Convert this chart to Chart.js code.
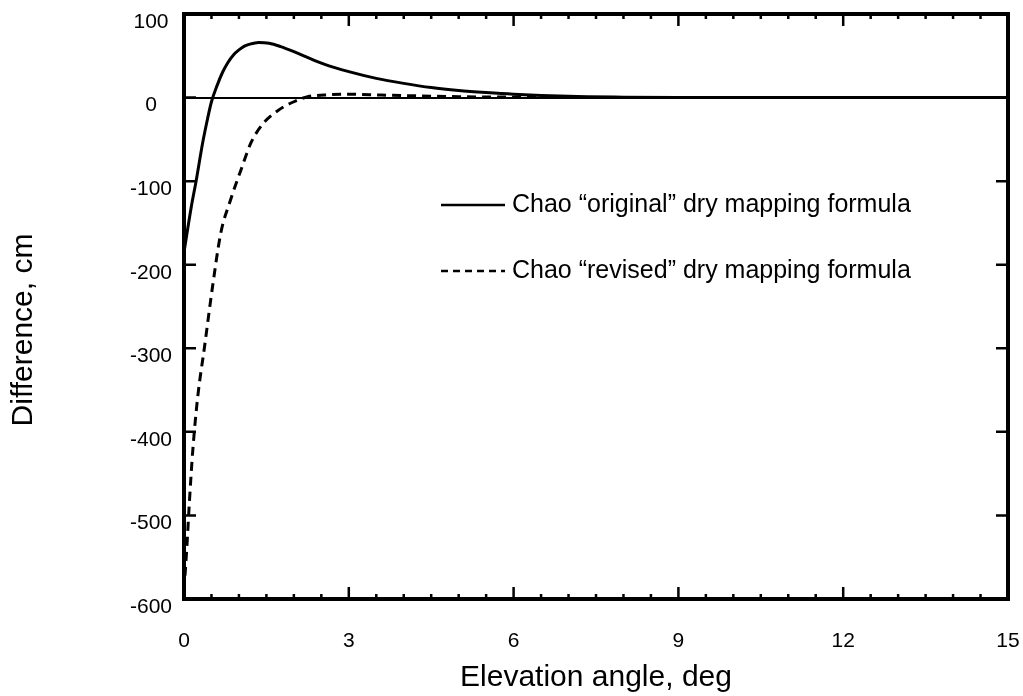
<!DOCTYPE html>
<html lang="en">
<head>
    <meta charset="UTF-8">
    <title>Mapping formula difference</title>
    <script src="https://cdn.jsdelivr.net/npm/chart.js"></script>
    <style>
        body {
            margin: 0;
            padding: 0;
            background: #fff;
        }
        #wrap {
            width: 1023px;
            height: 696px;
        }
    </style>
</head>
<body>
    <div id="wrap">
        <canvas id="myChart" width="1023" height="696"></canvas>
    </div>

    <script>
        // elevation angle (deg) and difference (cm)
        const originalX = [0, 0.06, 0.14, 0.22, 0.34, 0.43, 0.5, 0.6, 0.7, 0.8, 0.9, 1.0, 1.1, 1.2, 1.36, 1.55, 1.76, 2.0, 2.18, 2.55, 3.0, 3.5, 4.0, 4.5, 5.0, 5.5, 6.0, 7.0, 8.0, 9.0, 12, 15];
        const originalY = [-185, -160, -128, -100, -54, -25, -5, 14, 30, 42, 51, 57, 61.5, 64, 66, 65, 61, 55, 50, 40, 31, 23, 17, 12, 8.5, 6, 4, 1.5, 0.5, 0, 0, 0];

        const revisedX = [0, 0.05, 0.1, 0.16, 0.25, 0.37, 0.52, 0.67, 0.85, 1.04, 1.22, 1.43, 1.7, 2.0, 2.25, 2.55, 3.0, 3.6, 4.3, 5.0, 6.0, 8.0, 15];
        const revisedY = [-590, -540, -482, -422, -358, -300, -226, -162, -122, -86, -54, -32, -16, -5, 1, 3, 4, 3, 2, 1, 0.5, 0, 0];

        const xLabels = [0, 3, 6, 9, 12, 15];
        const yLabels = [100, 0, -100, -200, -300, -400, -500, -600];

        const legendNames = ['Chao \u201coriginal\u201d dry mapping formula', 'Chao \u201crevised\u201d dry mapping formula'];
        const yTitle = 'Difference, cm';

        const font = "'Liberation Sans', Arial, sans-serif";

        function toPoints(xs, ys) {
            return xs.map((x, i) => ({ x: x, y: ys[i] }));
        }

        // frame, inward ticks, y title and the little legend
        const framePlugin = {
            id: 'frame',
            afterDraw(chart) {
                const c = chart.ctx;
                const a = chart.chartArea;
                const xs = chart.scales.x;
                const ys = chart.scales.y;
                c.save();
                c.strokeStyle = '#000';
                c.lineWidth = 2.5;
                xs.ticks.forEach(t => {
                    const px = xs.getPixelForValue(t.value);
                    const len = xLabels.includes(t.value) ? 12 : 5;
                    c.beginPath();
                    c.moveTo(px, a.bottom);
                    c.lineTo(px, a.bottom - len);
                    c.moveTo(px, a.top);
                    c.lineTo(px, a.top + len);
                    c.stroke();
                });
                ys.ticks.forEach(t => {
                    if (!yLabels.includes(t.value)) return;
                    const py = ys.getPixelForValue(t.value);
                    c.beginPath();
                    c.moveTo(a.left, py);
                    c.lineTo(a.left + 12, py);
                    c.moveTo(a.right, py);
                    c.lineTo(a.right - 12, py);
                    c.stroke();
                });
                c.lineWidth = 4;
                c.strokeRect(a.left, a.top, a.right - a.left, a.bottom - a.top);

                // y axis title, sits a bit below the middle in the original
                c.save();
                c.translate(24, 330);
                c.rotate(-Math.PI / 2);
                c.font = '30px ' + font;
                c.fillStyle = '#000';
                c.textAlign = 'center';
                c.textBaseline = 'middle';
                c.fillText(yTitle, 0, 0);
                c.restore();

                // legend
                const ds = chart.data.datasets;
                const rows = [205, 271];
                c.font = '25px ' + font;
                c.fillStyle = '#000';
                c.textBaseline = 'middle';
                ds.forEach((d, i) => {
                    c.lineWidth = 2.5;
                    c.setLineDash(i === 1 ? [7, 5] : []);
                    c.beginPath();
                    c.moveTo(441, rows[i]);
                    c.lineTo(505, rows[i]);
                    c.stroke();
                    c.setLineDash([]);
                    c.fillText(d.label, 512, rows[i]);
                });
                c.restore();
            }
        };

        const ctx = document.getElementById('myChart').getContext('2d');
        const myChart = new Chart(ctx, {
            type: 'line',
            data: {
                datasets: [
                    {
                        label: legendNames[0],
                        data: toPoints(originalX, originalY),
                        borderColor: '#000',
                        borderWidth: 3,
                        pointRadius: 0,
                        cubicInterpolationMode: 'monotone',
                        fill: false
                    },
                    {
                        label: legendNames[1],
                        data: toPoints(revisedX, revisedY),
                        borderColor: '#000',
                        borderWidth: 3,
                        borderDash: [9, 6],
                        pointRadius: 0,
                        cubicInterpolationMode: 'monotone',
                        fill: false
                    }
                ]
            },
            options: {
                responsive: false,
                animation: false,
                layout: {
                    padding: { top: 14, right: 15, left: 0, bottom: 0 }
                },
                plugins: {
                    legend: { display: false },
                    tooltip: { enabled: false }
                },
                scales: {
                    x: {
                        type: 'linear',
                        min: 0,
                        max: 15,
                        afterFit(axis) {
                            axis.height = 97;
                            axis.paddingLeft = 0;
                            axis.paddingRight = 0;
                        },
                        ticks: {
                            stepSize: 0.5,
                            autoSkip: false,
                            maxRotation: 0,
                            padding: 22,
                            color: '#000',
                            font: { family: font, size: 21 },
                            callback: v => xLabels.includes(v) ? v : ''
                        },
                        grid: { display: false },
                        border: { display: false },
                        title: {
                            display: true,
                            text: 'Elevation angle, deg',
                            color: '#000',
                            font: { family: font, size: 30 },
                            padding: { top: 0, bottom: 0 }
                        }
                    },
                    y: {
                        min: -600,
                        max: 100,
                        afterFit(axis) {
                            axis.width = 184;
                            axis.paddingTop = 0;
                            axis.paddingBottom = 0;
                        },
                        ticks: {
                            stepSize: 100,
                            padding: 12,
                            crossAlign: 'center',
                            labelOffset: 8,
                            color: '#000',
                            font: { family: font, size: 21 }
                        },
                        grid: {
                            drawTicks: false,
                            color: c => c.tick && c.tick.value === 0 ? '#000' : 'rgba(0,0,0,0)',
                            lineWidth: 2
                        },
                        border: { display: false }
                    }
                }
            },
            plugins: [framePlugin]
        });
    </script>
</body>
</html>
